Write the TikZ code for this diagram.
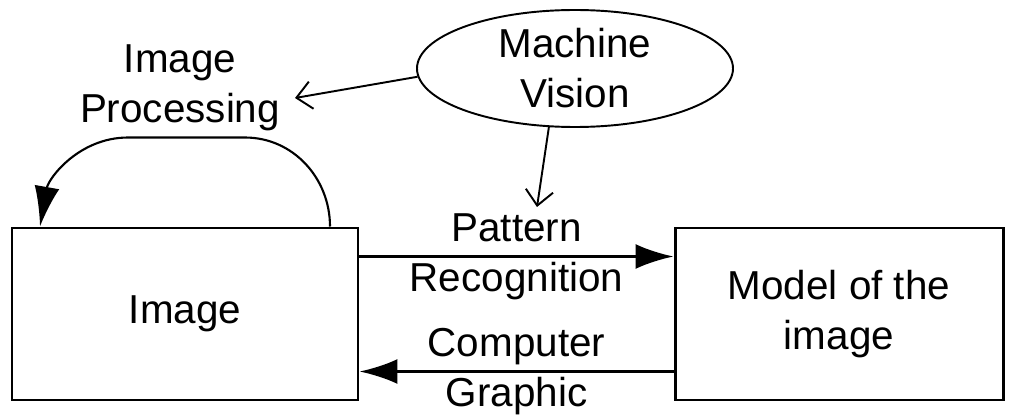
\documentclass[tikz,border=0pt]{standalone}
\usepackage{fontspec}
\setmainfont{Liberation Sans}
\usetikzlibrary{arrows.meta,shapes.geometric}
\tikzset{
  lbl/.style={font=\fontsize{23}{28.5}\selectfont,align=center,inner sep=0pt},
  bigbox/.style={draw,line width=1.7pt,minimum height=3.44cm,lbl},
  feed/.style={line width=1.7pt,-{Latex[length=0.76cm,width=0.5cm]}},
  hint/.style={line width=1.1pt,-{Straight Barb[length=0.3cm,width=0.55cm]}}
}
\begin{document}
\begin{tikzpicture}
    \useasboundingbox (0,0) rectangle (20.26,8.28);
    % boxes
    \node (img) at (3.70,2.00) [bigbox,minimum width=6.92cm] {Image};
    \node (model) at (16.78,2.00) [bigbox,minimum width=6.56cm] {Model of the\\image};
    \node (vision) at (11.50,6.91) [ellipse,draw,line width=1.1pt,minimum width=6.32cm,minimum height=2.34cm,lbl] {Machine\\Vision};
    \node (proc) at (3.60,6.52) [lbl] {Image\\Processing};
    \coordinate (procTip) at (5.90,6.32);
    \coordinate (patTip) at (10.74,4.14);
    % arrows between the boxes
    \coordinate (patA) at ([yshift=1.15cm]img.east);
    \coordinate (patB) at (patA -| model.west);
    \coordinate (grA) at ([yshift=-1.15cm]model.west);
    \coordinate (grB) at (grA -| img.east);
    \draw [feed] (patA) -- (patB) node [midway,lbl] {Pattern\\Recognition};
    \draw [feed] (grA) -- (grB) node [midway,lbl] {Computer\\Graphic};
    % image processing loop
    \draw [line width=1.2pt,-{Latex[length=0.8cm,width=0.5cm]}] ([xshift=2.9cm]img.north) to[out=90,in=0] ++(-1.7cm,1.78cm) -- ++(-2.34cm,0) to[out=180,in=80] ([xshift=-2.9cm]img.north);
    % machine vision
    \draw [hint] (vision.183) -- (procTip);
    \draw [hint] (vision.246) -- (patTip);
\end{tikzpicture}
\end{document}
